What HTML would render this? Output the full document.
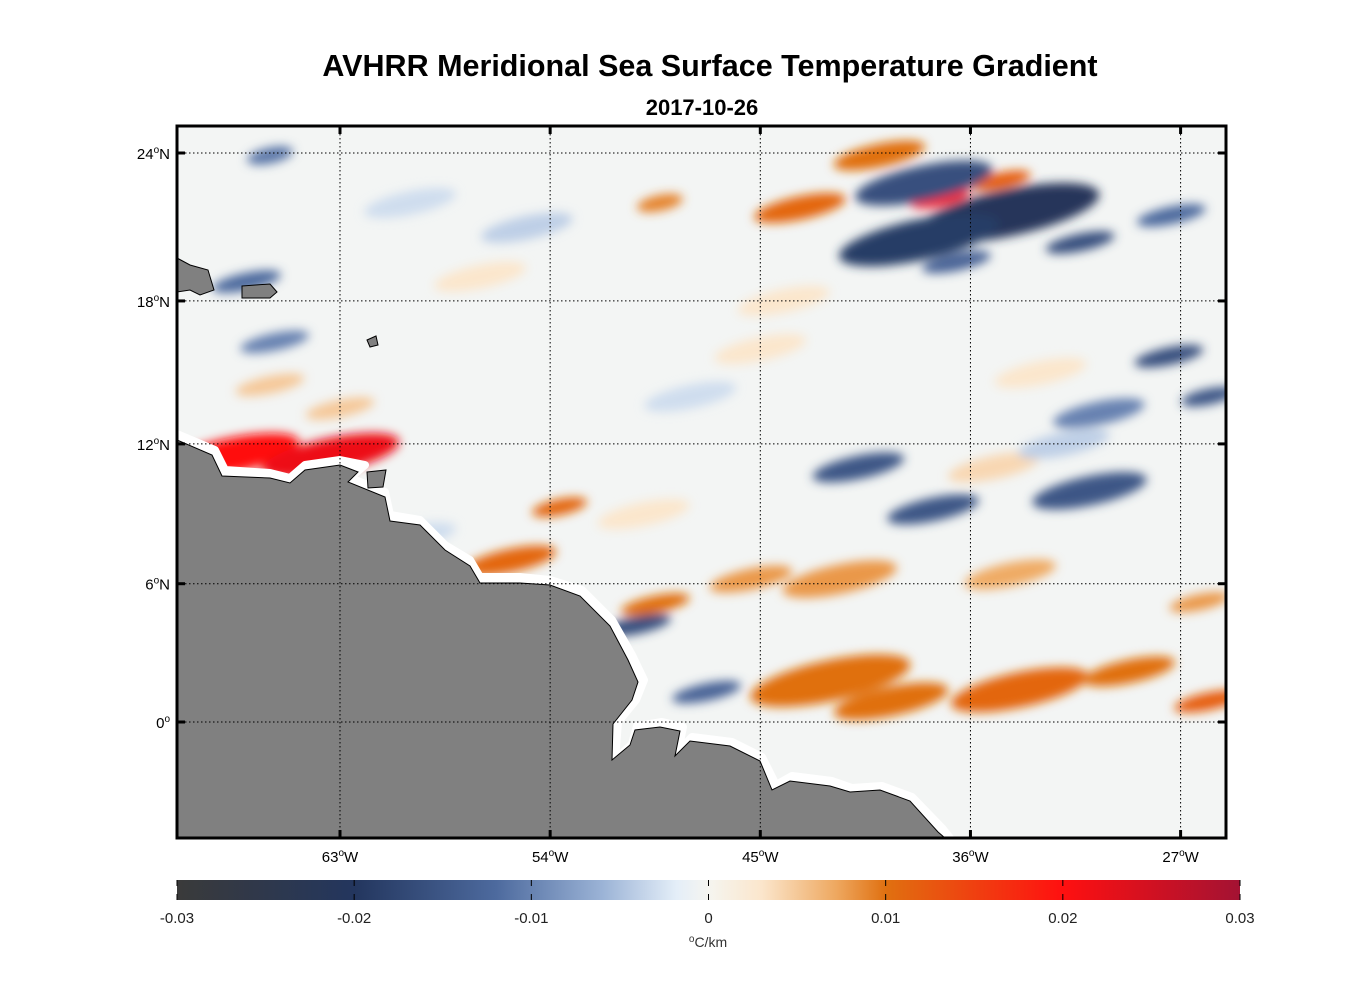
<!DOCTYPE html>
<html><head><meta charset="utf-8"><style>
body{margin:0;background:#fff;}
svg{display:block;font-family:"Liberation Sans",sans-serif;}
</style></head><body>
<svg id="chart" width="1356" height="1000" viewBox="0 0 1356 1000">
<defs>
<filter id="blur" x="-50%" y="-50%" width="200%" height="200%"><feGaussianBlur stdDeviation="5"/></filter>
<clipPath id="frameclip"><rect x="177" y="126" width="1049" height="712"/></clipPath>
<linearGradient id="cbgrad" x1="0" x2="1" y1="0" y2="0">
<stop offset="0" stop-color="#3a3a3a"/><stop offset="0.167" stop-color="#23365e"/>
<stop offset="0.3" stop-color="#4d6a9e"/><stop offset="0.4" stop-color="#9bb3d6"/>
<stop offset="0.47" stop-color="#e4eef8"/><stop offset="0.5" stop-color="#f5f5f0"/>
<stop offset="0.55" stop-color="#fbe6cc"/><stop offset="0.62" stop-color="#eea860"/>
<stop offset="0.667" stop-color="#e07010"/><stop offset="0.833" stop-color="#ff1010"/>
<stop offset="1" stop-color="#a31233"/></linearGradient>
</defs>
<text x="710" y="76" text-anchor="middle" font-size="30.5" font-weight="bold">AVHRR Meridional Sea Surface Temperature Gradient</text>
<text x="702" y="115" text-anchor="middle" font-size="22" font-weight="bold">2017-10-26</text>
<g clip-path="url(#frameclip)">
<rect x="177" y="126" width="1049" height="712" fill="#f3f5f4"/>
<g id="blobs" filter="url(#blur)"></g>
<path fill="#fff" stroke="#fff" stroke-width="8" stroke-linejoin="round"
 d="M177,434 L215,450 L225,470 L270,473 L290,478 L305,465 L340,460 L365,465 L350,478 L385,492 L390,515 L420,520 L445,545 L470,560 L480,577 L520,577 L550,580 L582,590 L612,620 L632,655 L644,680 L636,700 L618,722 L615,760 L632,744 L637,726 L662,722 L683,727 L678,752 L692,737 L732,742 L762,757 L776,785 L792,776 L832,781 L852,788 L882,786 L912,797 L942,828 L950,838 L177,838 Z"/>
<path fill="#808080" stroke="#000" stroke-width="1"
 d="M177,440 L212,455 L222,476 L270,478 L290,483 L305,470 L340,465 L358,472 L348,482 L385,497 L390,521 L420,525 L445,550 L470,566 L480,583 L520,583 L550,585 L580,596 L610,626 L628,660 L638,682 L632,700 L613,724 L612,760 L630,745 L635,730 L660,727 L680,731 L675,756 L690,741 L730,746 L760,761 L772,790 L790,781 L830,786 L850,792 L880,790 L910,801 L938,832 L945,838 L177,838 Z"/>
<path fill="#808080" stroke="#000" stroke-width="1" d="M367,472 L386,470 L383,487 L368,488 Z"/>
<path fill="#808080" stroke="#000" stroke-width="1" d="M177,258 L190,265 L208,270 L214,290 L200,295 L190,290 L177,292 Z"/>
<path fill="#808080" stroke="#000" stroke-width="1" d="M242,286 L270,284 L277,292 L270,298 L242,298 Z"/>
<path fill="#808080" stroke="#000" stroke-width="1" d="M367,340 L376,336 L378,345 L370,347 Z"/>
<g id="grid"></g>
</g>
<rect x="177" y="126" width="1049" height="712" fill="none" stroke="#000" stroke-width="3"/>
<g id="ticks"></g>
<rect x="177" y="880" width="1063" height="20" fill="url(#cbgrad)"/>
<g id="cbticks"></g>
<text x="708" y="947" text-anchor="middle" font-size="14" fill="#333"><tspan font-size="10" dy="-5">o</tspan><tspan dy="5">C/km</tspan></text>
</svg>
<script>
const latTicks=[24,18,12,6,0];
const lonTicks=[-63,-54,-45,-36,-27];
const cbTicks=[-0.03,-0.02,-0.01,0,0.01,0.02,0.03];
const cbLabels=["-0.03","-0.02","-0.01","0","0.01","0.02","0.03"];
const blobLon=[-67.7,-63.4,-53.6,-55.7,-49.5,-45.4,-41.6,-42,-39.4,-33.9,-29.2,-25.8,-34.3,-26.2,-37.3,-34.7,-39.9,-43.3,-49.3,-34.4,-38.2,-38,-31.3,-27.4,-27.5,-25.8,-30.5,-40.8,-37.6,-30.9,-50.3,-47.3,-67,-66,-65.8,-36.6,-57,-45,-33,-60,-48,-63,-35,-60,-66,-55,-44,-32,-50];
const blobLat=[11.5,11.5,9.3,7,5.1,6.2,6.2,1.8,0.9,1.4,2.2,0.9,6.4,5.2,22.2,22.9,23.9,21.8,22,21.6,20.5,22.8,20.4,21.5,15.7,14,13.3,11,9.2,10,4.2,1.3,18.8,23.9,16.3,19.6,19,16,15,22,14,13.5,11,8,14.5,21,18,12,9];
const blobVal=[0.02,0.022,0.011,0.011,0.01,0.008,0.008,0.01,0.01,0.011,0.01,0.012,0.007,0.008,0.021,0.012,0.01,0.011,0.009,-0.021,-0.019,-0.016,-0.016,-0.012,-0.016,-0.015,-0.01,-0.015,-0.015,-0.015,-0.016,-0.013,-0.012,-0.011,-0.01,-0.013,0.003,0.003,0.003,-0.003,-0.003,0.005,0.004,-0.003,0.005,-0.004,0.003,-0.004,0.003];
const blobLonSpan=[3,3,1.2,2,1.5,1.8,2.5,3.5,2.5,3,2,1.5,2,1.3,1.3,1.3,2,2,1,4,3.5,3,1.5,1.5,1.5,1.2,2,2,2,2.5,1.5,1.5,1.5,1,1.5,1.5,2,2,2,2,2,1.5,2,2,1.5,2,2,2,2];
const X0=340,XS=23.35;
function xOf(lon){return X0+(lon+63)*XS;}
function yOf(lat){const r=Math.PI/180;const m=l=>Math.log(Math.tan(Math.PI/4+l*r/2));const k=(722-153)/m(24);return 722-k*m(lat);}
const cstops=[[-0.03,[58,58,58]],[-0.02,[35,54,94]],[-0.012,[77,106,158]],[-0.006,[155,179,214]],[-0.0018,[228,238,248]],[0,[245,245,240]],[0.003,[251,230,204]],[0.0072,[238,168,96]],[0.01,[224,112,16]],[0.02,[255,16,16]],[0.03,[163,18,51]]];
function col(v){for(let i=0;i<cstops.length-1;i++){const[a,ca]=cstops[i],[b,cb]=cstops[i+1];if(v<=b){const t=Math.max(0,(v-a)/(b-a));return 'rgb('+ca.map((c,j)=>Math.round(c+(cb[j]-c)*t)).join(',')+')';}}return 'rgb(163,18,51)';}
const NS='http://www.w3.org/2000/svg';
const bg=document.getElementById('blobs');
for(let i=0;i<blobLon.length;i++){
 const e=document.createElementNS(NS,'ellipse');
 
 
 const cx=xOf(blobLon[i]),cy=yOf(blobLat[i]);
 e.setAttribute('cx',cx);e.setAttribute('cy',cy);
 e.setAttribute('rx',blobLonSpan[i]*XS);e.setAttribute('ry',Math.max(8,blobLonSpan[i]*XS*0.25));
 e.setAttribute('transform','rotate(-12 '+cx+' '+cy+')');
 e.setAttribute('fill',col(blobVal[i]));bg.appendChild(e);}
const g=document.getElementById('grid'),tk=document.getElementById('ticks'),cb=document.getElementById('cbticks');
function line(p,x1,y1,x2,y2,st,w,da,name){const l=document.createElementNS(NS,'line');
 
 
 l.setAttribute('x1',x1);l.setAttribute('y1',y1);l.setAttribute('x2',x2);l.setAttribute('y2',y2);l.setAttribute('stroke',st);l.setAttribute('stroke-width',w);if(da)l.setAttribute('stroke-dasharray',da);p.appendChild(l);}
function label(p,x,y,num,suf,anchor,name){const t=document.createElementNS(NS,'text');
 
 
 t.setAttribute('x',x);t.setAttribute('y',y);t.setAttribute('text-anchor',anchor);t.setAttribute('font-size','15');
 t.innerHTML=num+'<tspan font-size="10" dy="-6">o</tspan><tspan dy="6">'+suf+'</tspan>';p.appendChild(t);}
latTicks.forEach(v=>{const y=yOf(v);line(g,177,y,1226,y,'#000',1,'1.5,2.5','lat-gridline');
 line(tk,177,y,185,y,'#000',3,null,'lat-tick-left');line(tk,1218,y,1226,y,'#000',3,null,'lat-tick-right');
 label(tk,170,y+6,v,v===0?'':'N','end','lat-tick-label');});
lonTicks.forEach(v=>{const x=xOf(v);line(g,x,126,x,838,'#000',1,'1.5,2.5','lon-gridline');
 line(tk,x,126,x,134,'#000',3,null,'lon-tick-top');line(tk,x,830,x,838,'#000',3,null,'lon-tick-bottom');
 label(tk,x,862,-v,'W','middle','lon-tick-label');});
cbTicks.forEach((v,i)=>{const x=177+(v+0.03)/0.06*1063;
 line(cb,x,880,x,886,'#000',1,null,'colorbar-tick');line(cb,x,894,x,900,'#000',1,null,'colorbar-tick');
 const t=document.createElementNS(NS,'text');
 
 
 t.setAttribute('x',x);t.setAttribute('y',923);t.setAttribute('text-anchor','middle');t.setAttribute('font-size','15');t.setAttribute('fill','#222');t.textContent=cbLabels[i];cb.appendChild(t);});
</script>
</body></html>
